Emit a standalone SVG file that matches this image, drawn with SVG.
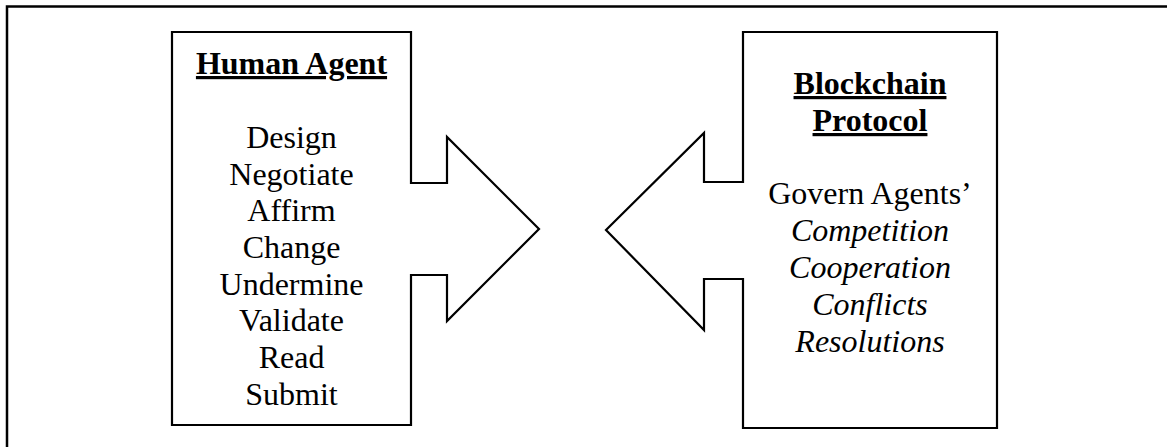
<svg xmlns="http://www.w3.org/2000/svg" width="1167" height="447" viewBox="0 0 1167 447">
<style>
.shape{fill:#fff;stroke:#000;stroke-width:2.2;stroke-linejoin:miter}
.frame{fill:none;stroke:#000;stroke-width:2.5}
.t{font-size:32px;fill:#000;text-anchor:middle}
.b{font-weight:bold;text-decoration:underline}
.i{font-style:italic}
</style>
<rect width="1167" height="447" fill="#fff"/>
<g id="frame"><path class="frame" d="M7,447 V6.5 H1167"/></g>
<g id="connectors"></g>
<g id="human-agent" font-family="'Liberation Serif', 'Times New Roman', Times, 'Nimbus Roman', 'DejaVu Serif', serif">
<path class="shape" d="M172,32 H411 V183 H447 V137 L539,229 L447,321 V275 H411 V425 H172 Z"/>
<text class="t b" x="291.5" y="74">Human Agent</text>
<text class="t" x="291.5" y="148">Design</text>
<text class="t" x="291.5" y="185">Negotiate</text>
<text class="t" x="291.5" y="221">Affirm</text>
<text class="t" x="291.5" y="258">Change</text>
<text class="t" x="291.5" y="295">Undermine</text>
<text class="t" x="291.5" y="331">Validate</text>
<text class="t" x="291.5" y="368">Read</text>
<text class="t" x="291.5" y="405">Submit</text>
</g>
<g id="blockchain-protocol" font-family="'Liberation Serif', 'Times New Roman', Times, 'Nimbus Roman', 'DejaVu Serif', serif">
<path class="shape" d="M997,32 H743 V182 H704 V133 L606,230 L704,330 V279 H743 V428 H997 Z"/>
<text class="t b" x="870" y="94">Blockchain</text>
<text class="t b" x="870" y="131">Protocol</text>
<text class="t" x="870" y="204">Govern Agents’</text>
<text class="t i" x="870" y="241">Competition</text>
<text class="t i" x="870" y="278">Cooperation</text>
<text class="t i" x="870" y="315">Conflicts</text>
<text class="t i" x="870" y="352">Resolutions</text>
</g>
</svg>
